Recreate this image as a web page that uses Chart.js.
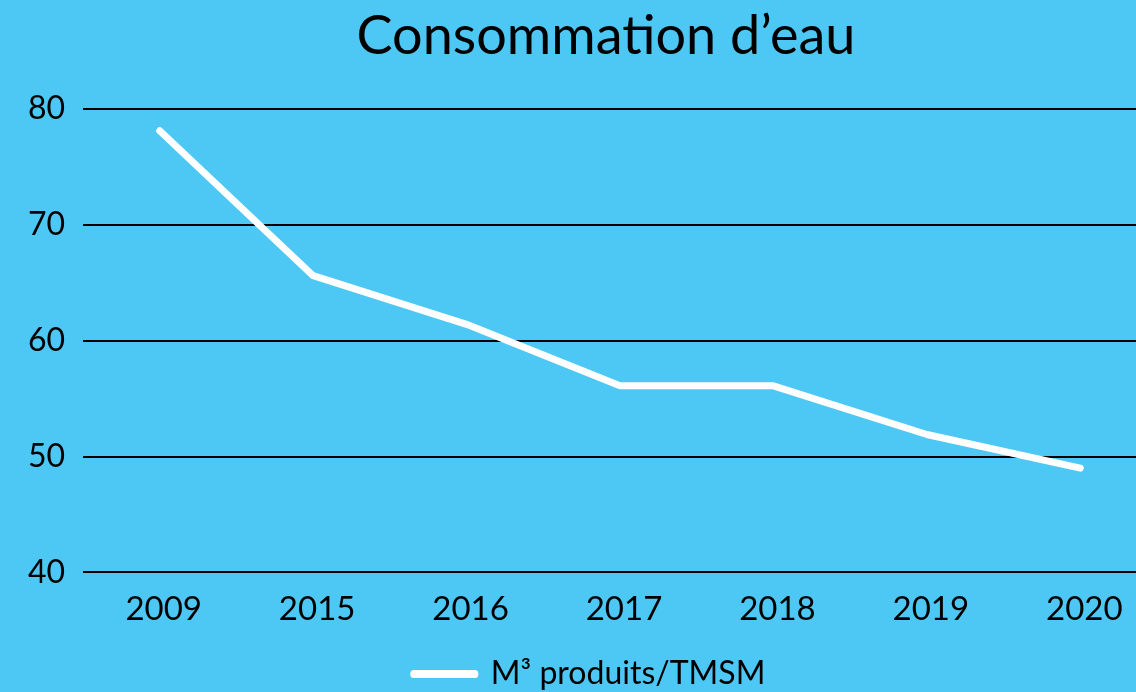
<!DOCTYPE html>
<html>
<head>
<meta charset="utf-8">
<script src="https://cdn.jsdelivr.net/npm/chart.js@4"></script>
<style>
  html, body { margin: 0; padding: 0; overflow: hidden; background: #4dc8f5; }
  #wrap { width: 1212px; height: 700px; }
</style>
</head>
<body>
<div id="wrap"><canvas id="waterChart"></canvas></div>
<script>
// ── Data ─────────────────────────────────────────
const years = ['2009', '2015', '2016', '2017', '2018', '2019', '2020'];
const m3PerTmsm = [78.1, 65.6, 61.4, 56.1, 56.1, 51.9, 49.0];
const yTicks = [40, 50, 60, 70, 80];

const FONT = 'Lato, "Noto Sans", sans-serif';
const BG = '#4dc8f5';

// paint canvas background
const bgPlugin = {
  id: 'bg',
  beforeDraw(chart) {
    const { ctx, width, height } = chart;
    ctx.save();
    ctx.fillStyle = BG;
    ctx.fillRect(0, 0, width, height);
    ctx.restore();
  }
};

new Chart(document.getElementById('waterChart'), {
  type: 'line',
  data: {
    labels: years,
    datasets: [{
      label: 'M³ produits/TMSM',
      data: m3PerTmsm,
      borderColor: '#ffffff',
      backgroundColor: '#ffffff',
      borderWidth: 7,
      borderCapStyle: 'round',
      borderJoinStyle: 'round',
      pointRadius: 0,
      tension: 0,
      fill: false,
    }]
  },
  options: {
    responsive: true,
    maintainAspectRatio: false,
    animation: false,
    plugins: {
      title: {
        display: true,
        text: 'Consommation d’eau',
        color: '#000',
        font: { family: FONT, size: 54, weight: 'normal' },
        padding: { top: 4, bottom: 40 },
      },
      legend: {
        position: 'bottom',
        labels: {
          color: '#000',
          font: { family: FONT, size: 32 },
          boxWidth: 61,
          boxHeight: 1,
          padding: 12,
          generateLabels(chart) {
            const items = Chart.defaults.plugins.legend.labels.generateLabels(chart);
            // trailing spaces nudge the centred item left
            items.forEach(it => { it.text = it.text + '\u00a0\u00a0\u00a0\u00a0'; });
            return items;
          }
        }
      },
      tooltip: { enabled: false },
    },
    scales: {
      x: {
        offset: true,
        grid: { display: false, drawTicks: false },
        border: { display: false },
        ticks: { color: '#000', font: { family: FONT, size: 33 }, padding: 17, labelOffset: 4, maxRotation: 0 },
      },
      y: {
        min: 40,
        max: 80,
        afterFit(scale) { scale.width = 83; },
        afterBuildTicks(scale) { scale.ticks = yTicks.map(v => ({ value: v })); },
        grid: { color: '#000', lineWidth: 2, drawTicks: false },
        border: { display: false },
        ticks: { color: '#000', font: { family: FONT, size: 32 }, padding: 18 },
      },
      // empty strip on the right: the plot runs past the window edge like the reference crop
      yPad: {
        position: 'right',
        min: 40,
        max: 80,
        afterFit(scale) { scale.width = 55; },
        grid: { display: false, drawTicks: false },
        border: { display: false },
        ticks: { display: false },
      }
    }
  },
  plugins: [bgPlugin]
});
</script>
</body>
</html>
